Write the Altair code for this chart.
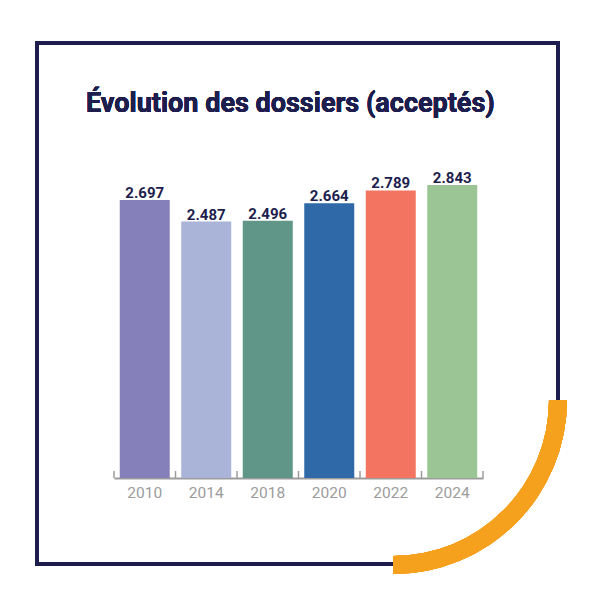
import altair as alt
import pandas as pd

years = ["2010", "2014", "2018", "2020", "2022", "2024"]
values = [2697, 2487, 2496, 2664, 2789, 2843]
colors = ["#8680ba", "#aab3d8", "#5f9687", "#2f69a8", "#f47462", "#9bc595"]
title_text = "Évolution des dossiers (acceptés)"

NAVY = "#1e1e4e"
GRAY = "#9c9c9c"
ORANGE = "#f5a11e"
FONT = "Roboto"

df = pd.DataFrame({"year": years, "value": values})
base = alt.Chart(df)

xaxis = alt.Axis(title=None, labelAngle=0, ticks=False, domainColor=GRAY, domainWidth=2,
                 labelColor=GRAY, labelFontSize=15.5, labelFont=FONT, labelPadding=7)
xscale = alt.Scale(domain=years, paddingInner=0.187, paddingOuter=0.0935)
yscale = alt.Scale(domain=[0, 2910])

X = alt.X("year:N", scale=xscale, axis=xaxis, sort=years)
Y = alt.Y("value:Q", scale=yscale, axis=None)

# frame (decoration)
frame_top = base.mark_rule(color=NAVY, strokeWidth=4, strokeCap="square").encode(
    x=alt.value(-77), x2=alt.value(444), y=alt.value(-135))
frame_left = base.mark_rule(color=NAVY, strokeWidth=4, strokeCap="square").encode(
    x=alt.value(-77), y=alt.value(-135), y2=alt.value(386))
frame_bottom = base.mark_rule(color=NAVY, strokeWidth=4, strokeCap="square").encode(
    x=alt.value(-77), x2=alt.value(279), y=alt.value(386))
frame_right = base.mark_rule(color=NAVY, strokeWidth=4, strokeCap="square").encode(
    x=alt.value(444), y=alt.value(-135), y2=alt.value(222))

title = base.mark_text(text=title_text, font=FONT, fontSize=27, fontWeight="bold",
                       color=NAVY, align="left", baseline="alphabetic").encode(
    x=alt.value(-28), y=alt.value(-66))

bars = base.mark_bar().encode(
    x=X, y=Y,
    color=alt.Color("year:N", scale=alt.Scale(domain=years, range=colors), legend=None),
)

labels = base.mark_text(font=FONT, fontSize=15, fontWeight="bold", color=NAVY,
                        baseline="alphabetic", dy=-2).encode(
    x=X, y=Y, text=alt.Text("value:Q", format=",d"))

ticks = base.mark_rule(color=GRAY, strokeWidth=1.5, xOffset=-5.75).encode(
    x=alt.X("year:N", scale=xscale, axis=xaxis, sort=years, bandPosition=0),
    y=alt.value(300), y2=alt.value(293))
last_tick = base.mark_rule(color=GRAY, strokeWidth=1.5, xOffset=5.75).encode(
    x=alt.X("year:N", scale=xscale, axis=xaxis, sort=years, bandPosition=1),
    y=alt.value(300), y2=alt.value(293)).transform_filter(alt.datum.year == years[-1])

arc = base.mark_arc(color=ORANGE, innerRadius=156, outerRadius=174,
                    theta=3.14159265 / 2, theta2=3.14159265).encode(
    x=alt.value(279), y=alt.value(222))

chart = alt.layer(frame_top, frame_left, frame_bottom, frame_right, title,
                  bars, ticks, last_tick, labels, arc).properties(
    width=369, height=300,
    padding={"left": 106, "top": 170, "right": 109, "bottom": 114},
    autosize="none",
).configure(
    view=alt.ViewConfig(strokeWidth=0, strokeOpacity=0),
    locale={"number": {"decimal": ",", "thousands": ".", "grouping": [3],
                       "currency": ["", " €"]}},
)

chart.save("out.html", embed_options={"renderer": "svg", "actions": False})
